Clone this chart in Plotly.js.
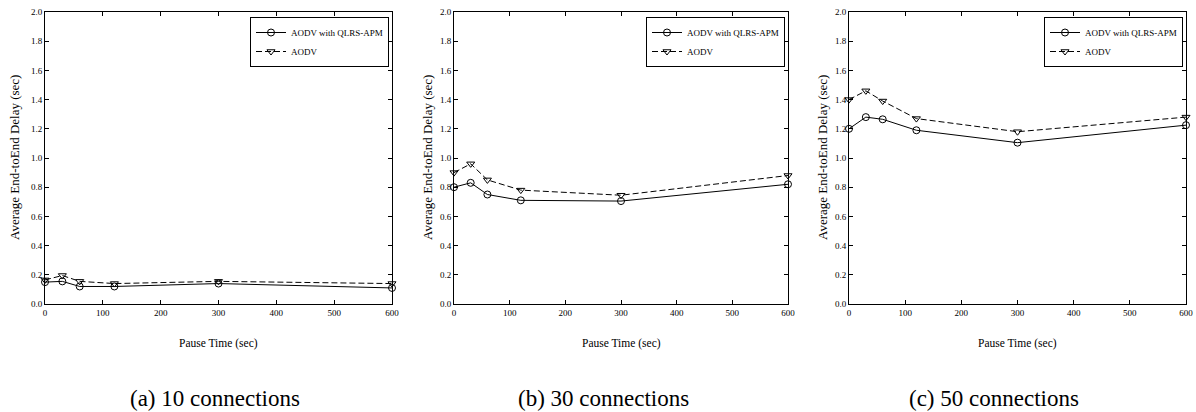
<!DOCTYPE html>
<html><head><meta charset="utf-8">
<script src="https://cdn.plot.ly/plotly-3.0.1.min.js"></script>
<style>body{margin:0;background:#fff}#chart{width:1196px;height:412px}</style>
</head><body><div id="chart"></div>
<script>
const pauseTime = [0, 30, 60, 120, 300, 600];
const qlrs10 = [0.150, 0.155, 0.120, 0.120, 0.140, 0.110];
const aodv10 = [0.165, 0.195, 0.155, 0.140, 0.155, 0.140];
const qlrs30 = [0.800, 0.830, 0.750, 0.710, 0.705, 0.820];
const aodv30 = [0.900, 0.960, 0.850, 0.780, 0.745, 0.880];
const qlrs50 = [1.200, 1.280, 1.265, 1.190, 1.105, 1.225];
const aodv50 = [1.400, 1.460, 1.390, 1.270, 1.180, 1.280];
const seriesNames = ["AODV with QLRS-APM", "AODV"];
const captions = ["(a) 10 connections", "(b) 30 connections", "(c) 50 connections"];
const xTitle = "Pause Time (sec)";
const yTitle = "Average End-toEnd Delay (sec)";

const W = 1196, H = 412;
const FONT = "'Liberation Serif', 'Times New Roman', Times, serif";
const panels = [
  {q: qlrs10, a: aodv10, x0: 45, x1: 392, yt: 14, cap: 215},
  {q: qlrs30, a: aodv30, x0: 454, x1: 788, yt: 427, cap: 603},
  {q: qlrs50, a: aodv50, x0: 849, x1: 1186, yt: 822, cap: 994}
];
const yTop = 12, yBot = 304;
const traces = [];
const layout = {
  width: W, height: H, margin: {l: 0, r: 0, t: 0, b: 0},
  paper_bgcolor: "#fff", plot_bgcolor: "#fff",
  font: {family: FONT, color: "#000", size: 9},
  annotations: [], showlegend: true
};
panels.forEach((p, i) => {
  const n = i === 0 ? "" : String(i + 1);
  const xa = "x" + n, ya = "y" + n;
  const lg = i === 0 ? "legend" : "legend" + (i + 1);
  traces.push({
    x: pauseTime, y: p.q, xaxis: xa, yaxis: ya, name: seriesNames[0], legend: lg,
    mode: "lines+markers", cliponaxis: false,
    line: {color: "#000", width: 1},
    marker: {symbol: "circle-open", size: 7, color: "#000", line: {width: 1}}
  });
  traces.push({
    x: pauseTime, y: p.a, xaxis: xa, yaxis: ya, name: seriesNames[1], legend: lg,
    mode: "lines+markers", cliponaxis: false,
    line: {color: "#000", width: 1, dash: "6px,3px"},
    marker: {symbol: "triangle-down-open", size: 7, color: "#000", line: {width: 1}}
  });
  const axCommon = {
    showgrid: false, zeroline: false, showline: true, linecolor: "#000", linewidth: 1,
    mirror: "allticks", ticks: "inside", ticklen: 4, tickcolor: "#000",
    tickfont: {family: FONT, size: 9, color: "#000"}
  };
  layout["xaxis" + n] = Object.assign({}, axCommon, {
    domain: [p.x0 / W, p.x1 / W], range: [0, 600], dtick: 100, tick0: 0,
    anchor: ya
  });
  layout["yaxis" + n] = Object.assign({}, axCommon, {
    domain: [1 - yBot / H, 1 - yTop / H], range: [0, 2], dtick: 0.2, tick0: 0,
    tickformat: ".1f", anchor: xa
  });
  layout[lg] = {
    x: (p.x1 - 3) / W, y: 1 - 17 / H, xanchor: "right", yanchor: "top",
    xref: "paper", yref: "paper",
    bgcolor: "#fff", bordercolor: "#000", borderwidth: 1,
    font: {family: FONT, size: 9, color: "#000"}, tracegroupgap: 0,
    itemwidth: 30
  };
  const cx = (p.x0 + p.x1) / 2 / W;
  layout.annotations.push({
    text: xTitle, xref: "paper", yref: "paper", x: cx, y: 1 - 343 / H,
    xanchor: "center", yanchor: "middle",
    showarrow: false, font: {family: FONT, size: 11.5, color: "#000"}
  });
  layout.annotations.push({
    text: yTitle, xref: "paper", yref: "paper", x: p.yt / W, y: 1 - 158 / H,
    xanchor: "center", yanchor: "middle",
    textangle: -90, showarrow: false, font: {family: FONT, size: 13, color: "#000"}
  });
  layout.annotations.push({
    text: captions[i], xref: "paper", yref: "paper", x: p.cap / W, y: 1 - 398 / H,
    xanchor: "center", yanchor: "middle",
    showarrow: false, font: {family: FONT, size: 23, color: "#000"}
  });
});
Plotly.newPlot("chart", traces, layout, {staticPlot: true});
</script></body></html>
